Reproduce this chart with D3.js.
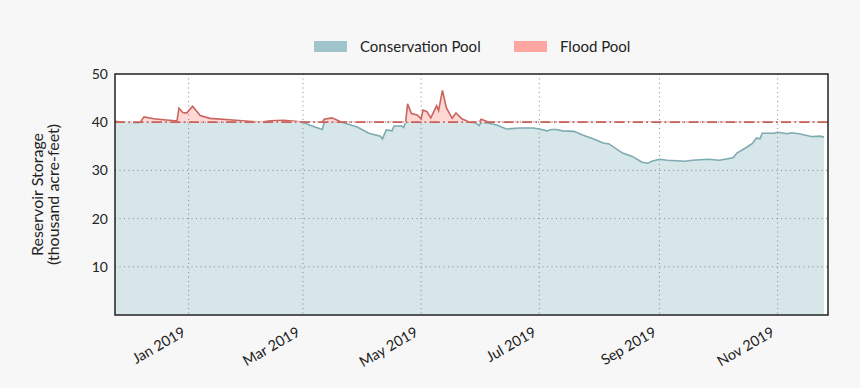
<!DOCTYPE html>
<html><head><meta charset="utf-8">
<script src="https://cdn.jsdelivr.net/npm/d3@7"></script>
<style>
html,body{margin:0;padding:0;background:#f7f7f7;}
svg{display:block;font-family:Lato,"Open Sans",sans-serif;}
</style></head>
<body><svg id="chart" width="860" height="388"></svg>
<script>
// ---- data ----
const dates = ["2018-11-24","2018-11-29","2018-12-06","2018-12-07","2018-12-09","2018-12-14","2018-12-19","2018-12-25","2018-12-26","2018-12-27","2018-12-29","2018-12-31","2019-01-03","2019-01-07","2019-01-12","2019-01-22","2019-02-01","2019-02-07","2019-02-12","2019-02-19","2019-02-25","2019-03-01","2019-03-05","2019-03-11","2019-03-12","2019-03-16","2019-03-21","2019-03-29","2019-04-04","2019-04-10","2019-04-11","2019-04-13","2019-04-16","2019-04-17","2019-04-21","2019-04-22","2019-04-23","2019-04-24","2019-04-26","2019-04-29","2019-05-01","2019-05-02","2019-05-04","2019-05-06","2019-05-09","2019-05-10","2019-05-12","2019-05-14","2019-05-17","2019-05-19","2019-05-22","2019-05-26","2019-05-29","2019-05-31","2019-06-01","2019-06-05","2019-06-09","2019-06-14","2019-06-21","2019-06-28","2019-07-01","2019-07-05","2019-07-07","2019-07-10","2019-07-13","2019-07-19","2019-07-23","2019-07-29","2019-08-03","2019-08-06","2019-08-13","2019-08-18","2019-08-23","2019-08-26","2019-08-28","2019-09-01","2019-09-05","2019-09-10","2019-09-14","2019-09-18","2019-09-26","2019-10-02","2019-10-09","2019-10-11","2019-10-16","2019-10-19","2019-10-21","2019-10-23","2019-10-24","2019-10-27","2019-10-30","2019-11-01","2019-11-06","2019-11-08","2019-11-12","2019-11-19","2019-11-23","2019-11-25"];
const storage = [40.2,40.0,39.9,40.0,41.1,40.7,40.5,40.3,40.3,42.9,42.0,41.9,43.3,41.4,40.8,40.5,40.2,40.0,40.3,40.4,40.2,40.0,39.3,38.5,40.6,40.9,40.0,39.0,37.7,37.1,36.5,38.4,38.2,39.2,39.2,38.9,40.0,43.8,41.8,41.5,40.7,42.5,42.2,40.9,43.4,42.4,46.6,43.0,40.8,41.9,40.7,40.0,39.9,39.3,40.6,39.8,39.4,38.6,38.8,38.8,38.6,38.2,38.5,38.5,38.2,38.1,37.4,36.5,35.7,35.5,33.6,32.9,31.7,31.5,31.9,32.3,32.1,32.0,31.9,32.1,32.3,32.1,32.6,33.6,34.8,35.6,36.7,36.6,37.7,37.7,37.7,37.9,37.6,37.8,37.6,37.0,37.1,36.9];
const floodLevel = 40;
const yTicks = [10,20,30,40,50];
const xTickDates = ["2019-01-01","2019-03-01","2019-05-01","2019-07-01","2019-09-01","2019-11-01"];
const xTickLabels = ["Jan 2019","Mar 2019","May 2019","Jul 2019","Sep 2019","Nov 2019"];
const legendLabels = ["Conservation Pool","Flood Pool"];
const xDomain = ["2018-11-24","2019-11-27"];
const yDomain = [0,50];

// ---- drawing ----
const parse = d3.utcParse("%Y-%m-%d");
const data = dates.map((d,i)=>({date:parse(d), v:storage[i]}));
const svg = d3.select("#chart");
const L=115, R=828, T=74, B=315;
const x = d3.scaleUtc().domain(xDomain.map(parse)).range([L,R]);
const y = d3.scaleLinear().domain(yDomain).range([B,T]);
const yF = y(floodLevel);

const defs = svg.append("defs");
defs.append("clipPath").attr("id","clipUp").append("rect")
  .attr("x",L).attr("y",T).attr("width",R-L).attr("height",yF-0.8-T);
defs.append("clipPath").attr("id","clipDown").append("rect")
  .attr("x",L).attr("y",yF+0.8).attr("width",R-L).attr("height",B-yF-0.8);

svg.append("rect").attr("x",L).attr("y",T).attr("width",R-L).attr("height",B-T).attr("fill","#fff");

// areas
const consArea = d3.area().x(d=>x(d.date)).y0(y(0)).y1(d=>y(Math.min(d.v,floodLevel)));
const floodArea = d3.area().x(d=>x(d.date)).y0(yF).y1(d=>y(Math.max(d.v,floodLevel)));
svg.append("path").datum(data).attr("d",consArea).attr("fill","#a0c4cb").attr("fill-opacity",0.42);
svg.append("path").datum(data).attr("d",floodArea).attr("fill","#ffa6a0").attr("fill-opacity",0.45);

// grid
const g = svg.append("g");
g.selectAll(".vg").data(xTickDates).join("line")
  .attr("x1",d=>x(parse(d))).attr("x2",d=>x(parse(d))).attr("y1",T).attr("y2",B)
  .attr("stroke","#8a8a8a").attr("stroke-width",1).attr("stroke-dasharray","1,3.5");
g.selectAll(".hg").data(yTicks.filter(t=>t<50)).join("line")
  .attr("x1",L).attr("x2",R).attr("y1",d=>y(d)).attr("y2",d=>y(d))
  .attr("stroke","#8a8a8a").attr("stroke-width",1).attr("stroke-dasharray","1,3.5");

const consLine = d3.line().x(d=>x(d.date)).y(d=>y(Math.min(d.v,floodLevel)));
const floodLine = d3.line().x(d=>x(d.date)).y(d=>y(Math.max(d.v,floodLevel)));
svg.append("path").datum(data).attr("d",consLine).attr("clip-path","url(#clipDown)")
  .attr("fill","none").attr("stroke","#7eaab1").attr("stroke-width",1.6);
svg.append("path").datum(data).attr("d",floodLine).attr("clip-path","url(#clipUp)")
  .attr("fill","none").attr("stroke","#c9645e").attr("stroke-width",1.6);

// flood level line
svg.append("line").attr("x1",L).attr("x2",R).attr("y1",yF).attr("y2",yF)
  .attr("stroke","#c9605a").attr("stroke-width",1.8).attr("stroke-dasharray","10,3.5,1.5,3.5");

// frame
svg.append("rect").attr("x",L).attr("y",T).attr("width",R-L).attr("height",B-T)
  .attr("fill","none").attr("stroke","#222").attr("stroke-width",1.5);

// y tick labels
svg.append("g").selectAll("text").data(yTicks).join("text")
  .attr("x",L-7).attr("y",d=>y(d)).attr("dy","0.35em").attr("text-anchor","end")
  .attr("font-size",14).attr("fill","#222").text(d=>d);

// y title
const yt = svg.append("text").attr("transform",`translate(45.5,${(T+B)/2}) rotate(-90)`)
  .attr("text-anchor","middle").attr("font-size",16).attr("fill","#222");
yt.append("tspan").attr("x",0).attr("dy","-0.15em").text("Reservoir Storage");
yt.append("tspan").attr("x",0).attr("dy","1.0em").text("(thousand acre-feet)");

// x tick labels
svg.append("g").selectAll("text").data(xTickDates).join("text")
  .attr("transform",(d)=>`translate(${x(parse(d))-2},${B+20}) rotate(-30)`)
  .attr("text-anchor","end").attr("font-size",14.5).attr("fill","#222")
  .text((d,i)=>xTickLabels[i]);

// legend
const legColors = ["#a0c4cb","#ffa6a0"];
const legX = [314,514];
const leg = svg.append("g");
legendLabels.forEach((lab,i)=>{
  leg.append("rect").attr("x",legX[i]).attr("y",41).attr("width",33).attr("height",11).attr("fill",legColors[i]);
  leg.append("text").attr("x",legX[i]+46).attr("y",46.5).attr("dy","0.35em").attr("font-size",15).attr("fill","#222").text(lab);
});
</script></body></html>
